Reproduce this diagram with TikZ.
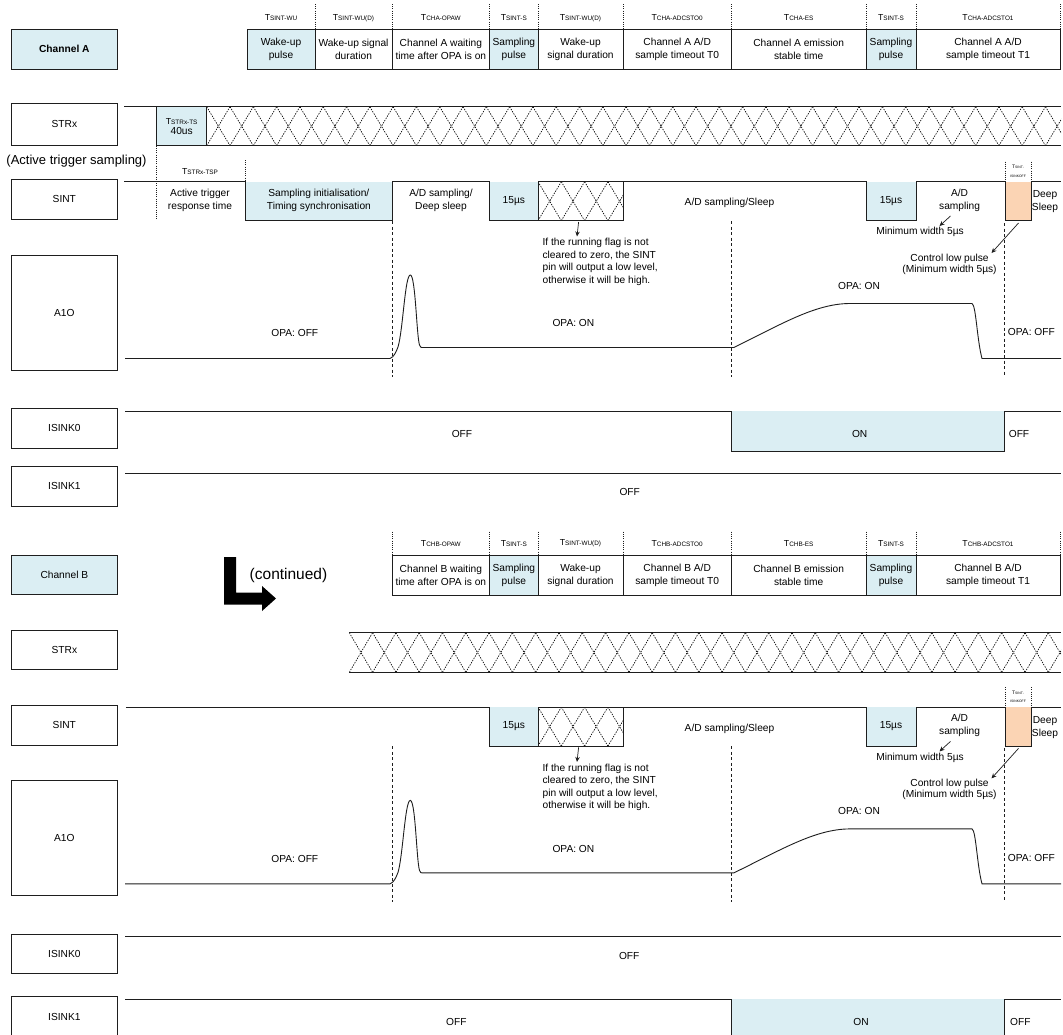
\documentclass[tikz,border=0pt]{standalone}
\usepackage{fontspec}
\setmainfont{Liberation Sans}
\usetikzlibrary{arrows.meta}
\definecolor{bluef}{RGB}{219,238,243}
\definecolor{orangef}{RGB}{251,212,180}
\definecolor{ink}{RGB}{30,30,30}
\newcommand{\Tlab}[1]{{\fontsize{8.7}{9}\selectfont T}{\fontsize{6.4}{7}\selectfont #1}}
\newcommand{\myhatch}[4]{%
  \begin{scope}
    \clip (#1,#3) rectangle (#2,#4);
    \pgfmathtruncatemacro{\hn}{ceil((#2-#1)/23.3)}
    \foreach \k in {0,...,\hn}{
      \draw[hatchl] ({#1+\k*23.3},#3) -- ({#1+(\k+1)*23.3},#4);
      \draw[hatchl] ({#1+\k*23.3},#4) -- ({#1+(\k+1)*23.3},#3);
    }
  \end{scope}}
\newcommand{\sintcommon}{%
  \fill[bluef] (489.7,181.7) rectangle (538,220.7);
  \fill[bluef] (866,181.7) rectangle (916,220.7);
  \fill[orangef] (1005,181.7) rectangle (1031,220.7);
  \myhatch{538}{623}{181.7}{220.7}
  \draw[sig] (392,181.7) -- (489.7,181.7) -- (489.7,220.7) -- (538,220.7) -- (538,181.7) -- (866,181.7) -- (866,220.7) -- (916,220.7) -- (916,181.7) -- (1005,181.7) -- (1005,220.7) -- (1031,220.7) -- (1031,181.7) -- (1061,181.7);
  \draw[sig] (538,220.7) -- (623,220.7) -- (623,181.7);
  \draw[dotsep] (1005,161.7) -- (1005,181.7);
  \draw[dotsep] (1031,161.7) -- (1031,181.7);
  \node[txt] (t15a) at (513.85,201) {15µs};
  \node[txt] (tads) at (729.5,203.3) {A/D sampling/Sleep};
  \node[txt] (t15b) at (891,201) {15µs};
  \node[txt] (tadsm) at (959.6,200) {A/D\\sampling};
  \node[txt] (tdeep) at (1045,201.7) {Deep\\Sleep};
  \node[tinylab] (toff) at (1018,171.2) {{\fontsize{5}{8.5}\selectfont T}SINT-\\ISINKOFF};
  \node[txt] (tminw) at (920,232.3) {Minimum width 5µs};
  \node[txt, font=\fontsize{10.2}{11.2}\selectfont] (tctl) at (949.5,264) {Control low pulse\\(Minimum width 5µs)};
  \node[txt, align=left, anchor=west, font=\fontsize{10.2}{12.5}\selectfont] (tflag) at (542.4,262) {If the running flag is not\\cleared to zero, the SINT\\pin will output a low level,\\otherwise it will be high.};
  \coordinate (fa1) at (578.6,222);
  \coordinate (fa2) at (577,236.5);
  \draw[arr] (fa1) -- (fa2);
  \coordinate (ma1) at (950.5,216);
  \coordinate (ma2) at (939.5,226);
  \draw[arr] (ma1) -- (ma2);
  \coordinate (ca1) at (1018.5,223);
  \coordinate (ca2) at (991.5,253);
  \draw[arr] (ca1) -- (ca2);
  \draw[dashv] (392,221) -- (392,376.7);
  \draw[dashv] (731.4,221) -- (731.4,376.7);
  \draw[dashv] (1004,223) -- (1004,376.7);
  \draw[sig] (125,358.5) -- (390,358.5) .. controls (394,357) and (396,352) .. (398,347) .. controls (403,330) and (405,275) .. (410.3,275) .. controls (415.5,275) and (416.5,335) .. (419.5,345) .. controls (420.5,347.5) .. (424,347.5) -- (733.8,347.5) .. controls (780,325) and (815,303.5) .. (850,303.5) -- (972,303.5) .. controls (976,305) and (977,340) .. (982,358.5) -- (1061,358.5);
  \node[txt] (opa1) at (294.8,333.3) {OPA: OFF};
  \node[txt] (opa2) at (573.4,323.3) {OPA: ON};
  \node[txt] (opa3) at (859,285.7) {OPA: ON};
  \node[txt] (opa4) at (1031.4,332.3) {OPA: OFF};
}
\tikzset{
  lbox/.style={draw=ink, line width=0.8pt, minimum width=105.3pt, inner sep=0pt, font=\fontsize{10.2}{12}\selectfont},
  txt/.style={inner sep=0pt, align=center, font=\fontsize{10.2}{13}\selectfont},
  tinylab/.style={inner sep=0pt, align=center, font=\fontsize{3.4}{8.5}\selectfont},
  sig/.style={draw=ink, line width=0.9pt},
  cellline/.style={draw=ink, line width=0.8pt},
  dotsep/.style={draw=ink, line width=0.6pt, dash pattern=on 1pt off 1.2pt},
  dashv/.style={draw=ink, line width=0.7pt, dash pattern=on 3pt off 2.5pt},
  hatchl/.style={draw=black, line width=0.65pt, dash pattern=on 1.4pt off 1.2pt},
  arr/.style={draw=ink, line width=0.7pt, -{Stealth[length=5pt,width=4.5pt]}},
}
\begin{document}
\begin{tikzpicture}[x=1pt,y=-1pt]
\clip (0,0) rectangle (1063,1034);
\fill[white] (0,0) rectangle (1063,1034);

% ================= TOP: CHANNEL A =================
\node[lbox, fill=bluef, minimum height=40pt] (chA) at (64.35,49) {\bfseries Channel A};
\node[lbox, minimum height=42pt] (strxA) at (64.35,124) {STRx};
\node[lbox, minimum height=40pt] (sintA) at (64.35,199.3) {SINT};
\node[lbox, minimum height=115pt] (aioA) at (64.35,312.5) {A1O};
\node[lbox, minimum height=40pt] (isk0A) at (64.35,428.3) {ISINK0};
\node[lbox, minimum height=39.3pt] (isk1A) at (64.35,486.3) {ISINK1};
\node[txt, font=\fontsize{13}{15}\selectfont] (ats) at (76.5,161) {(Active trigger sampling)};

% header
\fill[bluef] (247,29) rectangle (315,69);
\fill[bluef] (489.7,29) rectangle (538,69);
\fill[bluef] (866,29) rectangle (916,69);
\draw[cellline] (247,29) rectangle (1060,69);
\foreach \x in {315,392,489.7,538,623,731.4,866,916} \draw[cellline] (\x,29) -- (\x,69);
\foreach \x in {315,392,489.7,538,623,731.4,866,916,1060} \draw[dotsep] (\x,4) -- (\x,29);
\node[txt] (hA0) at (281,49) {Wake-up\\pulse};
\node[txt] (hA1) at (353.5,49) {Wake-up signal\\duration};
\node[txt] (hA2) at (440.85,49) {Channel A waiting\\time after OPA is on};
\node[txt] (hA3) at (513.85,49) {Sampling\\pulse};
\node[txt] (hA4) at (580.5,49) {Wake-up\\signal duration};
\node[txt] (hA5) at (677.2,49) {Channel A A/D\\sample timeout T0};
\node[txt] (hA6) at (798.7,49) {Channel A emission\\stable time};
\node[txt] (hA7) at (891,49) {Sampling\\pulse};
\node[txt] (hA8) at (988,49) {Channel A A/D\\sample timeout T1};
\node[inner sep=0pt] (lA0) at (281,18) {\Tlab{SINT-WU}};
\node[inner sep=0pt] (lA1) at (353.5,18) {\Tlab{SINT-WU(D)}};
\node[inner sep=0pt] (lA2) at (440.85,18) {\Tlab{CHA-OPAW}};
\node[inner sep=0pt] (lA3) at (513.85,18) {\Tlab{SINT-S}};
\node[inner sep=0pt] (lA4) at (580.5,18) {\Tlab{SINT-WU(D)}};
\node[inner sep=0pt] (lA5) at (677.2,18) {\Tlab{CHA-ADCSTO0}};
\node[inner sep=0pt] (lA6) at (798.7,18) {\Tlab{CHA-ES}};
\node[inner sep=0pt] (lA7) at (891,18) {\Tlab{SINT-S}};
\node[inner sep=0pt] (lA8) at (988,18) {\Tlab{CHA-ADCSTO1}};

% STRx top
\fill[bluef] (156.7,106.7) rectangle (206.7,145.7);
\myhatch{206.7}{1061}{106.7}{145.7}
\draw[sig] (124,106.7) -- (1061,106.7);
\draw[sig] (156.7,106.7) -- (156.7,145.7) -- (1061,145.7);
\draw[sig] (206.7,106.7) -- (206.7,145.7);
\node[txt, font=\fontsize{10.2}{10}\selectfont] (tts) at (181.7,127) {\Tlab{STRx-TS}\\40us};

% SINT top (start)
\fill[bluef] (245.7,181.7) rectangle (392,220.7);
\draw[sig] (124,181.7) -- (245.7,181.7) -- (245.7,220.7) -- (392,220.7) -- (392,181.7);
\draw[dotsep] (156.7,145.7) -- (156.7,220);
\draw[dotsep] (245.7,160) -- (245.7,181.7);
\node[inner sep=0pt] (ltsp) at (200,171.7) {\Tlab{STRx-TSP}};
\node[txt] (tatr) at (200,200) {Active trigger\\response time};
\node[txt] (tsin) at (318.9,200) {Sampling initialisation/\\Timing synchronisation};
\node[txt] (tadd) at (441,200) {A/D sampling/\\Deep sleep};
\begin{scope}[name prefix=a-]
\sintcommon
\end{scope}

% ISINK0 / ISINK1 top
\fill[bluef] (731.4,411.3) rectangle (1004,451);
\draw[sig] (125,411.3) -- (731.4,411.3) -- (731.4,451) -- (1004,451) -- (1004,411.3) -- (1061,411.3);
\node[txt] (i0a) at (462,434.3) {OFF};
\node[txt] (i0b) at (859.7,434.3) {ON};
\node[txt] (i0c) at (1019,434.3) {OFF};
\draw[sig] (125,473.3) -- (1061,473.3);
\node[txt] (i1a) at (629.7,491.7) {OFF};

% ================= BOTTOM: CHANNEL B =================
\node[lbox, fill=bluef, minimum height=39.3pt] (chB) at (64.35,574.7) {Channel B};
\node[lbox, minimum height=39.3pt] (strxB) at (64.35,649.7) {STRx};
\node[lbox, minimum height=40pt] (sintB) at (64.35,725) {SINT};
\node[lbox, minimum height=114.3pt] (aioB) at (64.35,837.9) {A1O};
\node[lbox, minimum height=39.3pt] (isk0B) at (64.35,953.7) {ISINK0};
\node[lbox, minimum height=40pt] (isk1B) at (64.35,1016.7) {ISINK1};

\fill[black] (224,557) -- (236,557) -- (236,592.5) -- (262,592.5) -- (262,586) -- (276,598.5) -- (262,611) -- (262,604.5) -- (224,604.5) -- cycle;
\node[txt, font=\fontsize{15.5}{17}\selectfont] (cont) at (288.5,575.5) {(continued)};

% header B
\fill[bluef] (489.7,555.7) rectangle (538,595.7);
\fill[bluef] (866,555.7) rectangle (916,595.7);
\draw[cellline] (392,555.7) rectangle (1060,595.7);
\foreach \x in {489.7,538,623,731.4,866,916} \draw[cellline] (\x,555.7) -- (\x,595.7);
\foreach \x in {392,489.7,538,623,731.4,866,916,1060} \draw[dotsep] (\x,531.7) -- (\x,555.7);
\node[txt] (hB2) at (440.85,575.7) {Channel B waiting\\time after OPA is on};
\node[txt] (hB3) at (513.85,575.7) {Sampling\\pulse};
\node[txt] (hB4) at (580.5,575.7) {Wake-up\\signal duration};
\node[txt] (hB5) at (677.2,575.7) {Channel B A/D\\sample timeout T0};
\node[txt] (hB6) at (798.7,575.7) {Channel B emission\\stable time};
\node[txt] (hB7) at (891,575.7) {Sampling\\pulse};
\node[txt] (hB8) at (988,575.7) {Channel B A/D\\sample timeout T1};
\node[inner sep=0pt] (lB2) at (440.85,543.5) {\Tlab{CHB-OPAW}};
\node[inner sep=0pt] (lB3) at (513.85,543.5) {\Tlab{SINT-S}};
\node[inner sep=0pt] (lB4) at (580.5,543.5) {\Tlab{SINT-WU(D)}};
\node[inner sep=0pt] (lB5) at (677.2,543.5) {\Tlab{CHB-ADCSTO0}};
\node[inner sep=0pt] (lB6) at (798.7,543.5) {\Tlab{CHB-ES}};
\node[inner sep=0pt] (lB7) at (891,543.5) {\Tlab{SINT-S}};
\node[inner sep=0pt] (lB8) at (988,543.5) {\Tlab{CHB-ADCSTO1}};

% STRx bottom
\myhatch{349.3}{1061}{632.7}{672.3}
\draw[sig] (349.3,632.7) -- (1061,632.7);
\draw[sig] (349.3,672.3) -- (1061,672.3);

% SINT + A1O bottom
\draw[sig] (125.9,707) -- (392,707);
\begin{scope}[shift={(0,525.4)}, name prefix=b-]
\sintcommon
\end{scope}

% ISINK0 / ISINK1 bottom
\draw[sig] (125,936.7) -- (1061,936.7);
\node[txt] (j0a) at (629.2,955.7) {OFF};
\fill[bluef] (731.5,999) rectangle (1004,1039);
\draw[sig] (125,999) -- (731.5,999) -- (731.5,1039) -- (1004,1039) -- (1004,999) -- (1061,999);
\node[txt] (j1a) at (456.3,1022.3) {OFF};
\node[txt] (j1b) at (861,1022.3) {ON};
\node[txt] (j1c) at (1020.3,1022.3) {OFF};
\end{tikzpicture}
\end{document}
